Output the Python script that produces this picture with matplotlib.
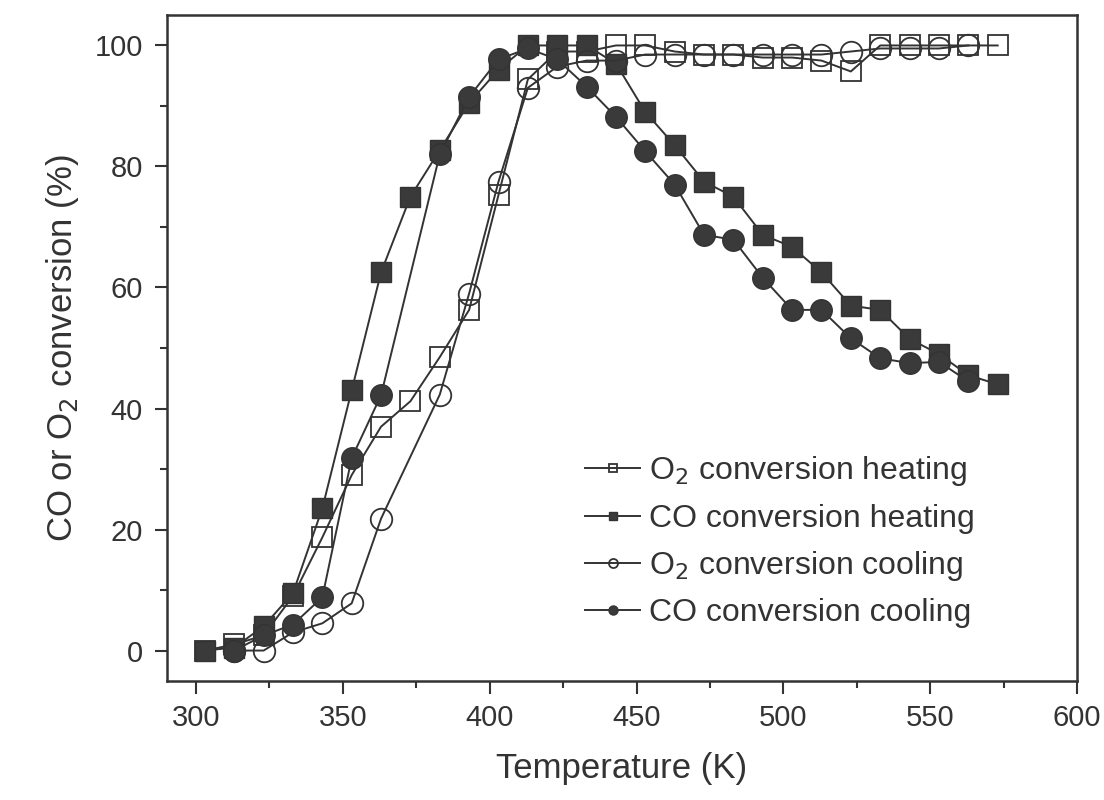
import matplotlib.pyplot as plt
from matplotlib.ticker import MultipleLocator

plt.rcParams['font.family'] = ['Liberation Sans', 'DejaVu Sans']

# heating runs (K, %)
temp_heat = [303, 313, 323, 333, 343, 353, 363, 373, 383, 393, 403, 413, 423, 433,
             443, 453, 463, 473, 483, 493, 503, 513, 523, 533, 543, 553, 563, 573]
o2_heat = [0, 1, 2.5, 9, 18.7, 29, 37, 41.2, 48.5, 56.3, 75.3, 94.4, 99, 99,
           100, 100, 99, 98.5, 98.5, 98, 98, 97.5, 95.7, 100, 100, 100, 100, 100]
co_heat = [0, 0.5, 4, 9.5, 23.5, 43, 62.5, 75, 82.7, 90.5, 96, 100, 100, 100,
           97, 89, 83.5, 77.5, 75, 68.7, 66.7, 62.5, 57, 56.3, 51.5, 49, 45.5, 44]

# cooling runs (no point at 373 K)
temp_cool = [563, 553, 543, 533, 523, 513, 503, 493, 483, 473, 463, 453, 443, 433,
             423, 413, 403, 393, 383, 363, 353, 343, 333, 323, 313]
o2_cool = [100, 99.5, 99.5, 99.5, 99, 98.5, 98.5, 98.5, 98.5, 98.5, 98.5, 98.5, 97.5, 97.5,
           96.5, 93, 77.5, 59, 42.3, 21.8, 7.8, 4.5, 3, 0, 0]
co_cool = [44.5, 47.7, 47.5, 48.3, 51.6, 56.3, 56.3, 61.6, 67.9, 68.7, 77, 82.5, 88.2, 93.2,
           97.7, 99.5, 97.7, 91.5, 82, 42.2, 31.8, 8.8, 4.3, 2.5, 0]

labels = ['O$_2$ conversion heating', 'CO conversion heating',
          'O$_2$ conversion cooling', 'CO conversion cooling']

ink = '#333333'
fig = plt.figure(figsize=(11.04, 8), dpi=100)
ax = fig.add_axes([0.151, 0.149, 0.8245, 0.832])

ax.plot(temp_heat, o2_heat, '-s', color=ink, lw=1.4, ms=14.5, mfc='none', mec=ink, mew=1.3, label=labels[0])
ax.plot(temp_heat, co_heat, '-s', color=ink, lw=1.4, ms=14.5, mfc='#3a3a3a', mec=ink, label=labels[1])
ax.plot(temp_cool, o2_cool, '-o', color=ink, lw=1.4, ms=15.5, mfc='none', mec=ink, mew=1.3, label=labels[2])
ax.plot(temp_cool, co_cool, '-o', color=ink, lw=1.4, ms=15.5, mfc='#3a3a3a', mec=ink, label=labels[3])

ax.set_xlim(290, 600)
ax.set_ylim(-5, 105)
ax.xaxis.set_major_locator(MultipleLocator(50))
ax.xaxis.set_minor_locator(MultipleLocator(25))
ax.yaxis.set_major_locator(MultipleLocator(20))
ax.yaxis.set_minor_locator(MultipleLocator(10))
ax.tick_params(which='both', direction='out', top=False, right=False, colors=ink,
               labelcolor='#333333', width=1.5)
ax.tick_params(which='major', length=9, labelsize=21, pad=8)
ax.tick_params(which='minor', length=5)
for s in ax.spines.values():
    s.set_linewidth(1.8)
    s.set_color(ink)

ax.set_xlabel('Temperature (K)', fontsize=25, color='#333333', labelpad=14)
ax.set_ylabel('CO or O$_2$ conversion (%)', fontsize=25, color='#333333', labelpad=10)

leg = ax.legend(loc='upper left', bbox_to_anchor=(0.46, 0.34), frameon=False,
                fontsize=23, markerscale=0.42, handlelength=1.7, handletextpad=0.3,
                labelspacing=0.48, borderpad=0, borderaxespad=0)
for t in leg.get_texts():
    t.set_color('#333333')

fig.savefig('out.png', dpi=100)
